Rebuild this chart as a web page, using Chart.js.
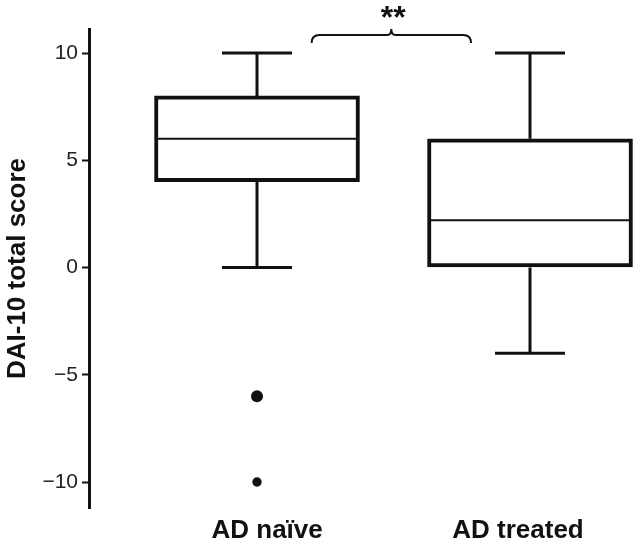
<!DOCTYPE html>
<html lang="en">
  <head>
    <meta charset="UTF-8" />
    <title>DAI-10 total score</title>
    <script src="https://cdn.jsdelivr.net/npm/chart.js@4.4.0/dist/chart.umd.min.js"></script>
    <style>
      body { margin: 0; background: #fff; }
    </style>
  </head>
  <body>
    <canvas id="boxChart" width="641" height="549"></canvas>

    <script>
      // groups and box stats
      const groups = ["AD naïve", "AD treated"];
      const q1 = [4, 0];
      const q3 = [8, 6];
      const medians = [6, 2.2];
      const whiskerLow = [0, -4];
      const whiskerHigh = [10, 10];
      const outlierValues = [-6, -10];
      const outlierGroup = [0, 0];
      const outlierSize = [6, 4.7];
      const yTicks = [-10, -5, 0, 5, 10];
      const sigLabel = "**";

      const ink = "#111";

      // whiskers, caps, medians and the significance bracket
      const boxExtras = {
        id: "boxExtras",
        beforeDatasetsDraw(chart) {
          const { ctx, scales } = chart;
          const xs = scales.x, ys = scales.y;
          ctx.save();
          ctx.strokeStyle = ink;
          ctx.lineWidth = 3;
          groups.forEach((g, i) => {
            const cx = xs.getPixelForValue(i);
            const capHalf = 35;
            [[q3[i], whiskerHigh[i]], [q1[i], whiskerLow[i]]].forEach(([a, b]) => {
              ctx.beginPath();
              ctx.moveTo(cx, ys.getPixelForValue(a));
              ctx.lineTo(cx, ys.getPixelForValue(b));
              ctx.moveTo(cx - capHalf, ys.getPixelForValue(b));
              ctx.lineTo(cx + capHalf, ys.getPixelForValue(b));
              ctx.stroke();
            });
          });
          ctx.restore();
        },
        afterDatasetsDraw(chart) {
          const { ctx, scales } = chart;
          const ys = scales.y;
          const meta = chart.getDatasetMeta(0);
          ctx.save();
          ctx.strokeStyle = ink;
          ctx.lineWidth = 2;
          meta.data.forEach((bar, i) => {
            const half = bar.width / 2;
            const y = ys.getPixelForValue(medians[i]);
            ctx.beginPath();
            ctx.moveTo(bar.x - half + 3, y);
            ctx.lineTo(bar.x + half - 3, y);
            ctx.stroke();
          });
          ctx.restore();
        },
        afterDraw(chart) {
          const { ctx, scales } = chart;
          const xs = scales.x, ys = scales.y;
          const x0 = xs.getPixelForValue(0.2);
          const x1 = xs.getPixelForValue(0.784);
          const xm = (x0 + x1) / 2;
          const yl = ys.getPixelForValue(10.84);
          const ye = ys.getPixelForValue(10.47);
          const yt = ys.getPixelForValue(11.12);
          ctx.save();
          ctx.strokeStyle = ink;
          ctx.lineWidth = 2;
          ctx.beginPath();
          ctx.moveTo(x0, ye);
          ctx.quadraticCurveTo(x0, yl, x0 + 8, yl);
          ctx.lineTo(xm - 4, yl);
          ctx.quadraticCurveTo(xm, yl, xm, yt);
          ctx.quadraticCurveTo(xm, yl, xm + 4, yl);
          ctx.lineTo(x1 - 8, yl);
          ctx.quadraticCurveTo(x1, yl, x1, ye);
          ctx.stroke();
          ctx.fillStyle = ink;
          ctx.font = "bold 32px 'Liberation Sans', Arial, sans-serif";
          ctx.textAlign = "center";
          ctx.textBaseline = "middle";
          ctx.fillText(sigLabel, xm + 2, yt - 10);
          ctx.restore();
        },
      };

      const boxData = groups.map((g, i) => ({ x: i, y: [q1[i], q3[i]] }));
      const outlierData = outlierValues.map((v, i) => ({ x: outlierGroup[i], y: v }));

      const boxChart = new Chart(document.getElementById("boxChart"), {
        type: "bar",
        data: {
          datasets: [
            {
              type: "bar",
              data: boxData,
              backgroundColor: "#fff",
              borderColor: ink,
              borderWidth: 4,
              borderSkipped: false,
              barThickness: 205,
            },
            {
              type: "scatter",
              data: outlierData,
              pointRadius: outlierSize,
              pointBackgroundColor: ink,
              pointBorderWidth: 0,
            },
          ],
        },
        options: {
          responsive: false,
          animation: false,
          layout: { padding: { top: 29, right: 0, left: 0, bottom: 0 } },
          plugins: { legend: { display: false }, tooltip: { enabled: false } },
          scales: {
            x: {
              type: "linear",
              offset: false,
              min: -0.6154,
              max: 1.3846,
              grid: { display: false, drawTicks: false, offset: false },
              border: { display: false },
              afterBuildTicks: (s) => {
                s.ticks = [{ value: 0.037 }, { value: 0.956 }];
              },
              afterFit: (s) => {
                s.height = 41;
              },
              ticks: {
                autoSkip: false,
                maxRotation: 0,
                padding: 7,
                color: ink,
                font: { family: "'Liberation Sans', Arial, sans-serif", size: 26, weight: "bold" },
                callback: (v, i) => groups[i],
              },
            },
            y: {
              min: -11.21,
              max: 11.12,
              afterBuildTicks: (s) => {
                s.ticks = yTicks.map((v) => ({ value: v }));
              },
              afterFit: (s) => {
                s.width = 89;
              },
              grid: {
                drawOnChartArea: false,
                drawTicks: true,
                tickLength: 7,
                tickWidth: 2,
                tickColor: ink,
              },
              border: { color: ink, width: 3 },
              ticks: {
                padding: 4,
                color: "#222",
                font: { family: "'Liberation Sans', Arial, sans-serif", size: 21 },
                callback: (v) => (v < 0 ? "\u2212" + Math.abs(v) : v),
              },
              title: {
                display: true,
                text: "DAI-10 total score",
                color: ink,
                padding: { top: 2, bottom: 0 },
                font: { family: "'Liberation Sans', Arial, sans-serif", size: 26, weight: "bold" },
              },
            },
          },
        },
        plugins: [boxExtras],
      });
    </script>
  </body>
</html>
